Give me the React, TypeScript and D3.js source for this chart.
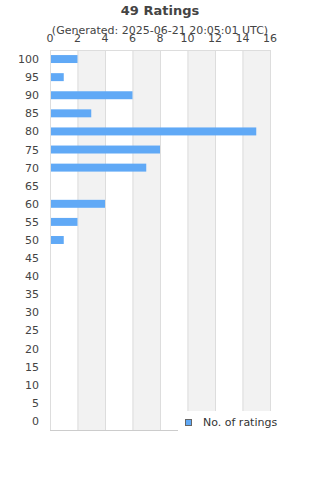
import React, { useEffect, useRef } from 'react';
import * as d3 from 'd3';

// rating buckets, top to bottom
const ratings = [100, 95, 90, 85, 80, 75, 70, 65, 60, 55, 50, 45, 40, 35, 30, 25, 20, 15, 10, 5, 0];
const counts = [2, 1, 6, 3, 15, 8, 7, 0, 4, 2, 1, 0, 0, 0, 0, 0, 0, 0, 0, 0, 0];
const xTicks = [0, 2, 4, 6, 8, 10, 12, 14, 16];

const App = () => {
  const svgRef = useRef<SVGSVGElement>(null);

  useEffect(() => {
    const svg = d3.select(svgRef.current);
    svg.selectAll('*').remove();

    const font = 'DejaVu Sans, sans-serif';
    const left = 50, right = 270, top = 50, bottom = 430;

    const x = d3.scaleLinear().domain([0, 16]).range([left, right]);
    const y = d3.scaleBand<number>().domain(ratings).range([top, bottom]).paddingInner(0.56).paddingOuter(0.28);

    // alternating bands
    for (let i = 0; i < xTicks.length - 1; i++) {
      if (i % 2 === 1) {
        svg.append('rect')
          .attr('x', x(xTicks[i]))
          .attr('y', top)
          .attr('width', x(xTicks[i + 1]) - x(xTicks[i]))
          .attr('height', bottom - top)
          .attr('fill', '#f2f2f2');
      }
    }

    // gridlines
    svg.append('g').selectAll('line')
      .data(xTicks)
      .join('line')
      .attr('x1', d => x(d) + 0.5)
      .attr('x2', d => x(d) + 0.5)
      .attr('y1', top)
      .attr('y2', bottom)
      .attr('stroke', '#dddddd');

    svg.append('line')
      .attr('x1', left).attr('x2', right)
      .attr('y1', top + 0.5).attr('y2', top + 0.5)
      .attr('stroke', '#dddddd');
    svg.append('line')
      .attr('x1', left).attr('x2', right)
      .attr('y1', bottom + 0.5).attr('y2', bottom + 0.5)
      .attr('stroke', '#cccccc');

    // bars
    svg.append('g').selectAll('rect')
      .data(ratings)
      .join('rect')
      .attr('x', x(0) + 1)
      .attr('y', d => y(d)!)
      .attr('width', (d, i) => Math.max(0, x(counts[i]) - x(0) - 1))
      .attr('height', y.bandwidth())
      .attr('fill', '#60a9f6');

    // x labels at top
    svg.append('g').selectAll('text')
      .data(xTicks)
      .join('text')
      .attr('x', d => x(d))
      .attr('y', 42)
      .attr('text-anchor', 'middle')
      .attr('font-family', font)
      .attr('font-size', 11)
      .attr('fill', '#444')
      .text(d => d);

    // y labels
    svg.append('g').selectAll('text')
      .data(ratings)
      .join('text')
      .attr('x', 39)
      .attr('y', d => y(d)! + y.bandwidth() / 2 + 4)
      .attr('text-anchor', 'end')
      .attr('font-family', font)
      .attr('font-size', 11)
      .attr('fill', '#444')
      .text(d => d);

    // titles
    svg.append('text')
      .attr('x', 160).attr('y', 15)
      .attr('text-anchor', 'middle')
      .attr('font-family', font)
      .attr('font-size', 13)
      .attr('font-weight', 'bold')
      .attr('fill', '#444')
      .text('49 Ratings');
    svg.append('text')
      .attr('x', 160).attr('y', 34)
      .attr('text-anchor', 'middle')
      .attr('font-family', font)
      .attr('font-size', 11)
      .attr('fill', '#444')
      .text('(Generated: 2025-06-21 20:05:01 UTC)');

    // legend
    const lg = svg.append('g');
    lg.append('rect')
      .attr('x', 178).attr('y', 411)
      .attr('width', 142).attr('height', 30)
      .attr('fill', '#ffffff');
    lg.append('rect')
      .attr('x', 185.5).attr('y', 419.5)
      .attr('width', 6).attr('height', 6)
      .attr('fill', '#60a9f6')
      .attr('stroke', '#666');
    lg.append('text')
      .attr('x', 203).attr('y', 426)
      .attr('font-family', font)
      .attr('font-size', 11)
      .attr('fill', '#333')
      .text('No. of ratings');
  }, []);

  return (
    <div>
      <svg ref={svgRef} width={320} height={480} style={{ position: 'absolute', left: 0, top: 0 }} />
    </div>
  );
};

export default App;
